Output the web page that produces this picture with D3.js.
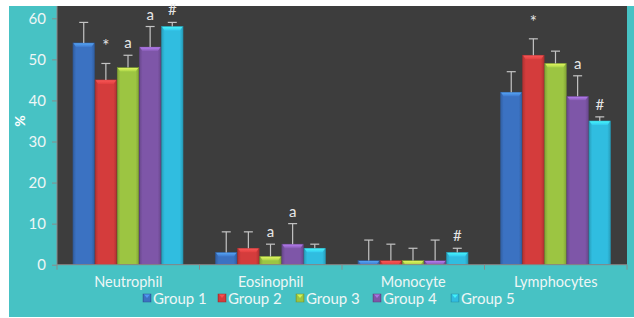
<!DOCTYPE html>
<html><head><meta charset="utf-8">
<script src="https://cdn.jsdelivr.net/npm/d3@7"></script>
<style>html,body{margin:0;padding:0;background:#fff;}svg{display:block;}</style>
</head><body>
<svg id="c" width="634" height="318"></svg>
<script>
const categories = ["Neutrophil","Eosinophil","Monocyte","Lymphocytes"];
const groups = ["Group 1","Group 2","Group 3","Group 4","Group 5"];
const group1 = [54, 3, 1, 42];
const group2 = [45, 4, 1, 51];
const group3 = [48, 2, 1, 49];
const group4 = [53, 5, 1, 41];
const group5 = [58, 4, 3, 35];
const err1 = [5, 5, 5, 5];
const err2 = [4, 4, 4, 4];
const err3 = [3, 3, 3, 3];
const err4 = [5, 5, 5, 5];
const err5 = [1, 1, 1, 1];
const marks1 = ["", "", "", ""];
const marks2 = ["*", "", "", "*"];
const marks3 = ["a", "a", "", ""];
const marks4 = ["a", "a", "", "a"];
const marks5 = ["#", "", "#", "#"];
const yTicks = [0, 10, 20, 30, 40, 50, 60];
const colors = ["#3b72c2", "#d43c3c", "#9cc542", "#7e56a8", "#30bde0"];

const values = [group1, group2, group3, group4, group5];
const errs = [err1, err2, err3, err4, err5];
const marks = [marks1, marks2, marks3, marks4, marks5];

const svg = d3.select("#c");
const W = 634, H = 318;
const pLeft = 57, pRight = 627, pTop = 6, pBottom = 265;
const font = "Lato, 'Open Sans', sans-serif";

// backgrounds
svg.append("rect").attr("x", 9).attr("y", 6).attr("width", W - 9).attr("height", 311).attr("fill", "#47c2c4");
svg.append("rect").attr("x", pLeft).attr("y", pTop).attr("width", pRight - pLeft).attr("height", pBottom - pTop).attr("fill", "#3d3d3d");

const x0 = d3.scaleBand().domain(categories).range([pLeft, pRight]).padding(0);
const x1 = d3.scaleBand().domain(groups).range([16, x0.bandwidth() - 16.5]).paddingInner(0.03);
const y = d3.scaleLinear().domain([0, 60]).range([264.7, 18.3]);

const defs = svg.append("defs");
colors.forEach((c, i) => {
  const g = defs.append("linearGradient").attr("id", "g" + i).attr("x1", 0).attr("x2", 1).attr("y1", 0).attr("y2", 0);
  const base = d3.color(c);
  g.append("stop").attr("offset", "0%").attr("stop-color", base.darker(0.5));
  g.append("stop").attr("offset", "15%").attr("stop-color", base);
  g.append("stop").attr("offset", "85%").attr("stop-color", base);
  g.append("stop").attr("offset", "100%").attr("stop-color", base.darker(0.5));
  const t = defs.append("linearGradient").attr("id", "t" + i).attr("x1", 0).attr("x2", 0).attr("y1", 0).attr("y2", 1);
  t.append("stop").attr("offset", "0%").attr("stop-color", base.brighter(1.2));
  t.append("stop").attr("offset", "100%").attr("stop-color", base.brighter(0.2));
});

// y axis
const yAxis = d3.axisLeft(y).tickValues(yTicks).tickSize(5).tickPadding(6);
const ya = svg.append("g").attr("transform", `translate(${pLeft},0)`).call(yAxis);
ya.select(".domain").attr("stroke", "#8a8a8a").attr("d", `M0,${y(0)}V${pTop}`);
ya.selectAll(".tick line").attr("stroke", "#8a8a8a");
ya.selectAll(".tick text").attr("fill", "#eef6f6").style("font-family", font).style("font-size", "15px");

// bars
const data = [];
categories.forEach((cat, ci) => {
  groups.forEach((g, gi) => {
    data.push({cat, g, gi, v: values[gi][ci], e: errs[gi][ci], m: marks[gi][ci]});
  });
});
const bars = svg.append("g");
data.forEach(d => {
  const bx = x0(d.cat) + x1(d.g), bw = x1.bandwidth();
  const by = y(d.v), bh = y(0) - y(d.v);
  bars.append("rect").attr("x", bx).attr("y", by).attr("width", bw).attr("height", bh)
    .attr("fill", `url(#g${d.gi})`).attr("stroke", d3.color(colors[d.gi]).darker(0.7)).attr("stroke-width", 0.6);
  const th = Math.min(4, bh);
  bars.append("path")
    .attr("d", `M${bx + 0.5},${by + 0.3}H${bx + bw - 0.5}L${bx + bw - 3},${by + th}H${bx + 3}Z`)
    .attr("fill", `url(#t${d.gi})`).attr("opacity", 0.85);
  const cx = bx + bw / 2, ey = y(d.v + d.e);
  bars.append("line").attr("x1", cx).attr("x2", cx).attr("y1", by).attr("y2", ey).attr("stroke", "#c4c4c4").attr("stroke-width", 1.2);
  bars.append("line").attr("x1", cx - 4.5).attr("x2", cx + 4.5).attr("y1", ey).attr("y2", ey).attr("stroke", "#c4c4c4").attr("stroke-width", 1.2);
  if (d.m === "*") {
    bars.append("text").attr("x", cx).attr("y", ey - 11).attr("text-anchor", "middle")
      .attr("fill", "#e6e6e6").style("font-family", font).style("font-size", "17px").text(d.m);
  } else if (d.m) {
    bars.append("text").attr("x", cx).attr("y", ey - 7).attr("text-anchor", "middle")
      .attr("fill", "#e6e6e6").style("font-family", font).style("font-size", "15px").text(d.m);
  }
});

// x axis
const xAxis = d3.axisBottom(x0).tickSize(0).tickPadding(12);
const xa = svg.append("g").attr("transform", `translate(0,${y(0)})`).call(xAxis);
xa.select(".domain").attr("stroke", "#8a8a8a").attr("d", `M${pLeft},0H${pRight}`);
xa.selectAll(".tick text").attr("fill", "#eef6f6").style("font-family", font).style("font-size", "14.5px");
const bounds = categories.map(c => x0(c)).concat([pRight]);
xa.selectAll("line.sep").data(bounds).join("line").attr("class", "sep")
  .attr("x1", d => d).attr("x2", d => d).attr("y1", 0).attr("y2", 5).attr("stroke", "#8a8a8a");

// y title
svg.append("text").attr("transform", "translate(25,121) rotate(-90)").attr("text-anchor", "middle")
  .attr("fill", "#ffffff").style("font-family", font).style("font-size", "14px").style("font-weight", "bold").text("%");

// legend
const legX = [143, 218, 296, 373, 451];
const leg = svg.append("g");
groups.forEach((g, i) => {
  const lx = legX[i], ly = 298;
  leg.append("rect").attr("x", lx).attr("y", ly - 4).attr("width", 8).attr("height", 8)
    .attr("fill", `url(#g${i})`).attr("stroke", d3.color(colors[i]).darker(0.8)).attr("stroke-width", 0.5);
  leg.append("path").attr("d", `M${lx + 1},${ly - 3.5}H${lx + 7}L${lx + 4},${ly}Z`).attr("fill", d3.color(colors[i]).brighter(1)).attr("opacity", 0.8);
  leg.append("text").attr("x", lx + 10).attr("y", ly + 5.5).attr("fill", "#eef6f6")
    .style("font-family", font).style("font-size", "15px").text(g);
});
</script>
</body></html>
